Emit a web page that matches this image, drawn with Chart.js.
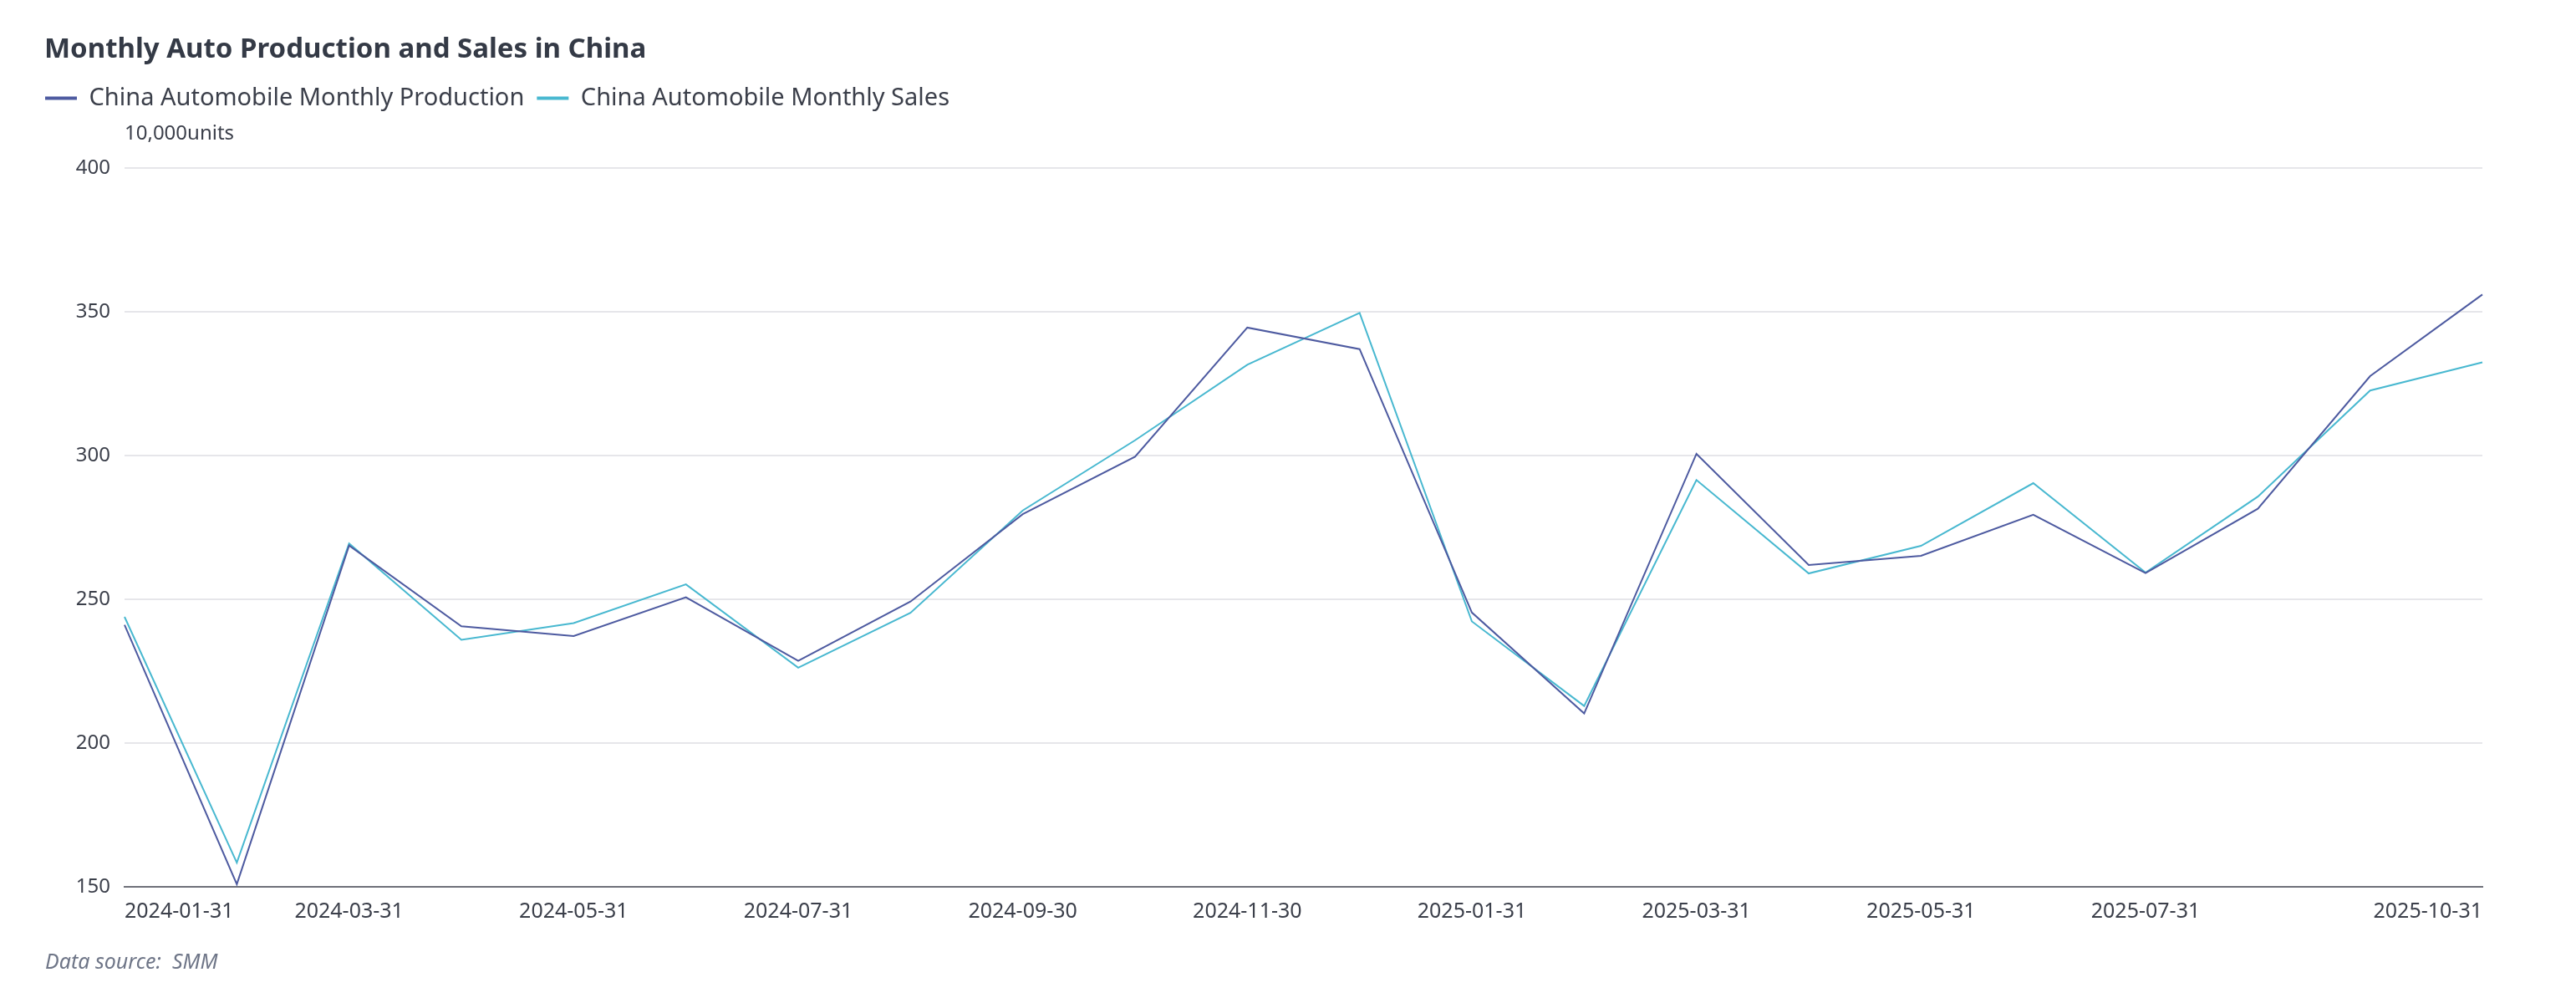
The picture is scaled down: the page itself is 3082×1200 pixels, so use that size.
<!DOCTYPE html>
<html>
<head>
<meta charset="utf-8">
<title>Monthly Auto Production and Sales in China</title>
<script src="https://cdn.jsdelivr.net/npm/chart.js@4.4.1/dist/chart.umd.min.js"></script>
<style>
    body { margin: 0; background: #ffffff; }
    #wrap { width: 3082px; height: 1200px; }
</style>
</head>
<body>
<div id="wrap"><canvas id="autoChart" width="3082" height="1200"></canvas></div>
<script>
// Dados do gráfico (10,000 units)
const months = [
    '2024-01-31', '2024-02-29', '2024-03-31', '2024-04-30', '2024-05-31', '2024-06-30',
    '2024-07-31', '2024-08-31', '2024-09-30', '2024-10-31', '2024-11-30', '2024-12-31',
    '2025-01-31', '2025-02-28', '2025-03-31', '2025-04-30', '2025-05-31', '2025-06-30',
    '2025-07-31', '2025-08-31', '2025-09-30', '2025-10-31'
];
const production = [241.1, 150.9, 268.7, 240.6, 237.2, 250.7, 228.6, 249.2, 279.6, 299.6, 344.5, 337.0,
                    245.4, 210.3, 300.6, 261.9, 265.1, 279.4, 259.1, 281.5, 327.6, 356.0];
const sales = [243.9, 158.4, 269.4, 235.9, 241.7, 255.2, 226.2, 245.3, 280.9, 305.3, 331.6, 349.6,
               242.3, 212.9, 291.5, 259.0, 268.6, 290.4, 259.3, 285.7, 322.6, 332.4];
const yTicks = [150, 200, 250, 300, 350, 400];
const seriesNames = ['China Automobile Monthly Production', 'China Automobile Monthly Sales'];

const FONT = '"Noto Sans", "Open Sans", sans-serif';
const TEXT = '#3b3f4a';
const colors = ['#4d5aa0', '#48b8d0'];

// Título, unidade e fonte dos dados
const textPlugin = {
    id: 'texts',
    beforeInit(chart) {
        const fit = chart.legend.fit;
        chart.legend.fit = function () {
            fit.call(this);
            this.height += 59;
        };
    },
    afterDraw(chart) {
        const ctx = chart.ctx;
        ctx.save();
        ctx.textBaseline = 'middle';
        ctx.textAlign = 'left';
        ctx.fillStyle = '#343a46';
        ctx.font = 'bold 33px ' + FONT;
        ctx.fillText('Monthly Auto Production and Sales in China', 53, 60);
        ctx.fillStyle = TEXT;
        ctx.font = '24px ' + FONT;
        ctx.fillText('10,000units', chart.chartArea.left, 160);
        ctx.fillStyle = '#6e7587';
        ctx.font = 'italic 25px ' + FONT;
        ctx.fillText('Data source:  SMM', 54, 1152);
        ctx.restore();
    }
};

const ctx = document.getElementById('autoChart').getContext('2d');
new Chart(ctx, {
    type: 'line',
    data: {
        labels: months,
        datasets: [
            {
                label: seriesNames[0],
                data: production,
                borderColor: colors[0],
                backgroundColor: colors[0],
                borderWidth: 2,
                pointRadius: 0,
                tension: 0
            },
            {
                label: seriesNames[1],
                data: sales,
                borderColor: colors[1],
                backgroundColor: colors[1],
                borderWidth: 2,
                pointRadius: 0,
                tension: 0
            }
        ]
    },
    options: {
        responsive: false,
        devicePixelRatio: 1,
        animation: false,
        layout: { padding: { top: 88, left: 39, right: 112, bottom: 98 } },
        plugins: {
            title: { display: false },
            tooltip: { enabled: false },
            legend: {
                position: 'top',
                align: 'start',
                labels: {
                    boxWidth: 38,
                    boxHeight: 4,
                    padding: 15,
                    color: TEXT,
                    font: { family: FONT, size: 29 },
                    generateLabels(chart) {
                        return chart.data.datasets.map((ds, i) => ({
                            text: ds.label,
                            fillStyle: ds.borderColor,
                            strokeStyle: ds.borderColor,
                            fontColor: TEXT,
                            lineWidth: 0,
                            hidden: false,
                            datasetIndex: i
                        }));
                    }
                }
            }
        },
        scales: {
            x: {
                grid: { display: false, drawTicks: false },
                border: { display: true, color: '#6e7079', width: 2 },
                ticks: {
                    autoSkip: false,
                    maxRotation: 0,
                    align: 'inner',
                    padding: 15,
                    color: TEXT,
                    font: { family: FONT, size: 25 },
                    callback: function (value, index) {
                        const last = months.length - 1;
                        if (index === last) return months[index];
                        if (index % 2 === 0 && index < last - 1) return months[index];
                        return '';
                    }
                },
                afterFit(scale) { scale.height = 41; }
            },
            y: {
                min: yTicks[0],
                max: yTicks[yTicks.length - 1],
                grid: { color: '#e6e6ea', lineWidth: 2, drawTicks: false },
                border: { display: false },
                afterBuildTicks(scale) {
                    scale.ticks = yTicks.map(v => ({ value: v }));
                },
                ticks: {
                    padding: 17,
                    color: TEXT,
                    font: { family: FONT, size: 24 }
                },
                afterFit(scale) { scale.width = 110; }
            }
        }
    },
    plugins: [textPlugin]
});
</script>
</body>
</html>
